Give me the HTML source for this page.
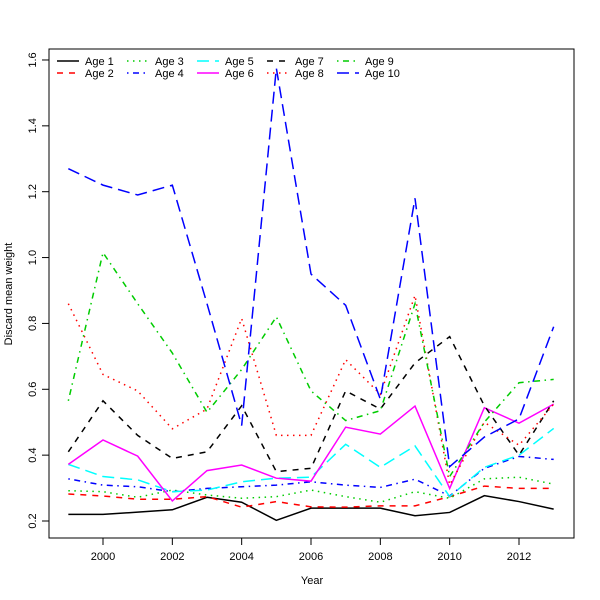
<!DOCTYPE html>
<html><head><meta charset="utf-8"><style>
body{margin:0;background:#fff}
svg{display:block;font-family:"Liberation Sans",sans-serif}
</style></head><body>
<svg id="chart" width="600" height="600">
</svg>
<script>
const years=[1999,2000,2001,2002,2003,2004,2005,2006,2007,2008,2009,2010,2011,2012,2013];
const age1=[0.220,0.220,0.227,0.234,0.272,0.257,0.202,0.239,0.239,0.239,0.216,0.226,0.277,0.259,0.236];
const age2=[0.282,0.276,0.266,0.266,0.274,0.242,0.259,0.243,0.242,0.246,0.246,0.274,0.306,0.299,0.299];
const age3=[0.292,0.289,0.272,0.294,0.279,0.269,0.274,0.294,0.274,0.257,0.289,0.269,0.328,0.333,0.312];
const age4=[0.328,0.309,0.304,0.289,0.299,0.304,0.309,0.319,0.309,0.302,0.327,0.276,0.360,0.396,0.387];
const age5=[0.372,0.335,0.325,0.289,0.294,0.319,0.330,0.333,0.433,0.363,0.428,0.274,0.363,0.400,0.481];
const age6=[0.372,0.446,0.397,0.261,0.353,0.370,0.330,0.321,0.485,0.464,0.549,0.299,0.544,0.497,0.555];
const age7=[0.41,0.565,0.46,0.39,0.41,0.55,0.35,0.36,0.595,0.54,0.68,0.76,0.55,0.40,0.565];
const age8=[0.86,0.645,0.595,0.48,0.54,0.815,0.46,0.46,0.69,0.585,0.885,0.31,0.50,0.43,0.555];
const age9=[0.565,1.015,0.86,0.71,0.53,0.66,0.82,0.595,0.505,0.535,0.86,0.335,0.50,0.62,0.63];
const age10=[1.27,1.22,1.19,1.22,0.86,0.49,1.575,0.95,0.855,0.57,1.18,0.365,0.455,0.51,0.79];
const xTicks=[2000,2002,2004,2006,2008,2010,2012];
const yTicks=[0.2,0.4,0.6,0.8,1.0,1.2,1.4,1.6];
const seriesNames=["Age 1","Age 2","Age 3","Age 4","Age 5","Age 6","Age 7","Age 8","Age 9","Age 10"];

const NS="http://www.w3.org/2000/svg";
const svg=document.getElementById('chart');
const X=v=>103+(v-2000)*34.667;
const Y=v=>521-(v-0.2)*329.3;
function el(t,a,p){const e=document.createElementNS(NS,t);for(const k in a)e.setAttribute(k,a[k]);(p||svg).appendChild(e);return e;}
const data=[age1,age2,age3,age4,age5,age6,age7,age8,age9,age10];
const cols=["#000","#f00","#0c0","#00f","#0ff","#f0f","#000","#f00","#0c0","#00f"];
const dashes=["none","6,6","1.5,4.5","1.5,4.5,6,4.5","12,6","none","6,6","1.5,4.5","1.5,4.5,6,4.5","12,6"];

const box=el('rect',{x:49,y:49,width:525,height:489,fill:'none',stroke:'#000','stroke-width':1});



xTicks.forEach(t=>{
  const l=el('line',{x1:X(t),x2:X(t),y1:538,y2:545,stroke:'#000'});
  
  
  const tx=el('text',{x:X(t),y:560,'font-size':11,'text-anchor':'middle'});
  tx.textContent=t;
  
  
});
yTicks.forEach(t=>{
  const l=el('line',{x1:42,x2:49,y1:Y(t),y2:Y(t),stroke:'#000'});
  
  
  const tx=el('text',{x:0,y:0,'font-size':11,'text-anchor':'middle',transform:`translate(36,${Y(t)}) rotate(-90)`});
  tx.textContent=t.toFixed(1);
  
  
});
const xt=el('text',{x:312,y:584,'font-size':11,'text-anchor':'middle'});
xt.textContent='Year';


const yt=el('text',{x:0,y:0,'font-size':11,'text-anchor':'middle',transform:'translate(12,294) rotate(-90)'});
yt.textContent='Discard mean weight';



data.forEach((s,i)=>{
  const p=el('polyline',{points:s.map((v,j)=>X(years[j])+','+Y(v)).join(' '),fill:'none',stroke:cols[i],'stroke-width':1.5,'stroke-dasharray':dashes[i]});
  
  
});

seriesNames.forEach((n,i)=>{
  const cx=57+Math.floor(i/2)*70, cy=61+(i%2)*12;
  const g=el('g',{});
  
  
  el('line',{x1:cx,x2:cx+22,y1:cy,y2:cy,stroke:cols[i],'stroke-width':1.5,'stroke-dasharray':dashes[i]},g);
  const t=el('text',{x:cx+28,y:cy+4,'font-size':11},g);
  t.textContent=n;
});
</script>
</body></html>
